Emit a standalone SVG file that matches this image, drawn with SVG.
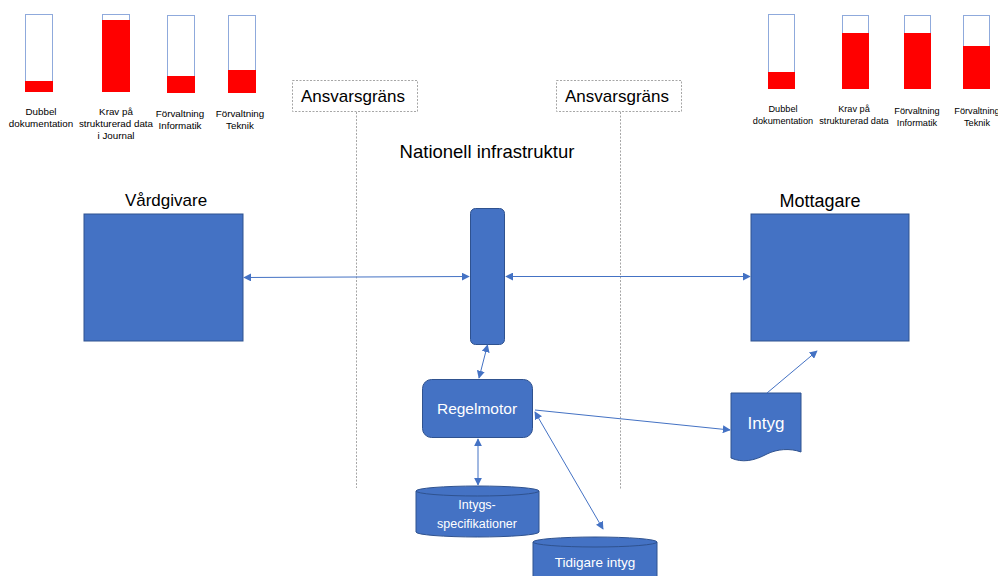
<svg xmlns="http://www.w3.org/2000/svg" width="998" height="576" viewBox="0 0 998 576">
<defs>
<marker id="ah" viewBox="0 0 10 10" refX="9" refY="5" markerWidth="8" markerHeight="8" markerUnits="userSpaceOnUse" orient="auto-start-reverse">
<path d="M0,0 L10,5 L0,10 Z" fill="#4472C4"/>
</marker>
</defs>
<style>
text{font-family:"Liberation Sans",Arial,sans-serif;}
.node{fill:#4472C4;stroke:#2F528F;stroke-width:1;}
.wt{fill:#FFFFFF;text-anchor:middle;}
.bk{fill:#000000;text-anchor:middle;}
.bar{fill:#FFFFFF;stroke:#8FAADC;stroke-width:1;}
.red{fill:#FF0000;}
.lbl{font-size:9.8px;fill:#000;text-anchor:middle;}
.lblr{font-size:9.2px;fill:#000;text-anchor:middle;}
.conn{stroke:#4472C4;stroke-width:1;fill:none;marker-start:url(#ah);marker-end:url(#ah);}
.one{stroke:#4472C4;stroke-width:1;fill:none;marker-end:url(#ah);}
.dot{stroke:#A6A6A6;stroke-width:1;stroke-dasharray:2,1.5;fill:none;}
</style>
<rect width="998" height="576" fill="#FFFFFF"/>

<g id="chart-left">
<rect class="bar" x="25.5" y="14.5" width="27" height="77"/>
<rect class="red" x="25" y="81" width="28" height="11"/>
<rect class="bar" x="102.5" y="14.5" width="27" height="77"/>
<rect class="red" x="102" y="20" width="28" height="72"/>
<rect class="bar" x="167.5" y="15.5" width="27" height="77"/>
<rect class="red" x="167" y="76" width="28" height="17"/>
<rect class="bar" x="228.5" y="15.5" width="27" height="77"/>
<rect class="red" x="228" y="70" width="28" height="23"/>
<text class="lbl" x="41" y="115">Dubbel</text>
<text class="lbl" x="41" y="127">dokumentation</text>
<text class="lbl" x="116" y="115">Krav på</text>
<text class="lbl" x="116" y="127">strukturerad data</text>
<text class="lbl" x="116" y="139">i Journal</text>
<text class="lbl" x="180" y="117">Förvaltning</text>
<text class="lbl" x="180" y="129">Informatik</text>
<text class="lbl" x="240" y="117">Förvaltning</text>
<text class="lbl" x="240" y="129">Teknik</text>
</g>

<g id="chart-right">
<rect class="bar" x="768.5" y="14.5" width="26" height="74"/>
<rect class="red" x="768" y="72" width="27" height="17"/>
<rect class="bar" x="842.5" y="15.5" width="26" height="73"/>
<rect class="red" x="842" y="33" width="27" height="56"/>
<rect class="bar" x="904.5" y="15.5" width="26" height="73"/>
<rect class="red" x="904" y="33" width="27" height="56"/>
<rect class="bar" x="963.5" y="15.5" width="26" height="73"/>
<rect class="red" x="963" y="46" width="27" height="43"/>
<text class="lblr" x="783" y="112">Dubbel</text>
<text class="lblr" x="783" y="124">dokumentation</text>
<text class="lblr" x="854" y="112">Krav på</text>
<text class="lblr" x="854" y="124">strukturerad data</text>
<text class="lblr" x="917" y="114">Förvaltning</text>
<text class="lblr" x="917" y="126">Informatik</text>
<text class="lblr" x="977" y="114">Förvaltning</text>
<text class="lblr" x="977" y="126">Teknik</text>
</g>

<g id="grans-left">
<rect class="dot" x="292.5" y="80.5" width="125" height="31"/>
<text class="bk" x="353" y="102" font-size="17">Ansvarsgräns</text>
<line class="dot" x1="356.5" y1="112" x2="356.5" y2="488"/>
</g>
<g id="grans-right">
<rect class="dot" x="556.5" y="80.5" width="125" height="31"/>
<text class="bk" x="617" y="102" font-size="17">Ansvarsgräns</text>
<line class="dot" x1="620.5" y1="112" x2="620.5" y2="490"/>
</g>

<g id="title">
<text class="bk" x="487" y="158" font-size="18.5">Nationell infrastruktur</text>
</g>

<g id="vardgivare">
<text class="bk" x="166" y="206" font-size="17">Vårdgivare</text>
<rect class="node" x="84" y="214" width="159" height="127"/>
</g>

<g id="mottagare">
<text class="bk" x="820" y="207" font-size="18">Mottagare</text>
<rect class="node" x="751" y="214" width="158" height="127"/>
</g>

<g id="infra">
<rect class="node" x="470.5" y="208.5" width="34" height="136" rx="5"/>
</g>

<g id="regelmotor">
<rect class="node" x="422.5" y="379.5" width="110" height="58" rx="9"/>
<text class="wt" x="477" y="414" font-size="15.5">Regelmotor</text>
</g>

<g id="intyg">
<path class="node" d="M731,393 H801 V452 C790,448 777,449 767,454 C754,461 742,463 731,458 Z"/>
<text class="wt" x="766" y="429" font-size="17">Intyg</text>
</g>

<g id="intygsspec">
<path class="node" d="M416,491 A61.5,5 0 0 1 539,491 V532 A61.5,5 0 0 1 416,532 Z"/>
<path d="M416,491 A61.5,5 0 0 0 539,491" fill="none" stroke="#2F528F" stroke-width="1"/>
<text class="wt" x="477" y="509" font-size="12.5">Intygs-</text>
<text class="wt" x="477" y="528" font-size="12.5">specifikationer</text>
</g>

<g id="tidigare">
<path class="node" d="M533,542 A62,5 0 0 1 657,542 V590 A62,5 0 0 1 533,590 Z"/>
<path d="M533,542 A62,5 0 0 0 657,542" fill="none" stroke="#2F528F" stroke-width="1"/>
<text class="wt" x="595" y="567" font-size="13.5">Tidigare intyg</text>
</g>

<g id="connectors">
<line class="conn" x1="244" y1="277.5" x2="469" y2="276.5"/>
<line class="conn" x1="506" y1="276.5" x2="750" y2="276.5"/>
<line class="conn" x1="487.5" y1="345" x2="479" y2="378"/>
<line class="conn" x1="478" y1="439" x2="478" y2="485"/>
<line class="one" x1="535" y1="410" x2="730" y2="430"/>
<line class="conn" x1="535" y1="412" x2="603" y2="529"/>
<line class="one" x1="767" y1="393" x2="817" y2="351"/>
</g>
</svg>
